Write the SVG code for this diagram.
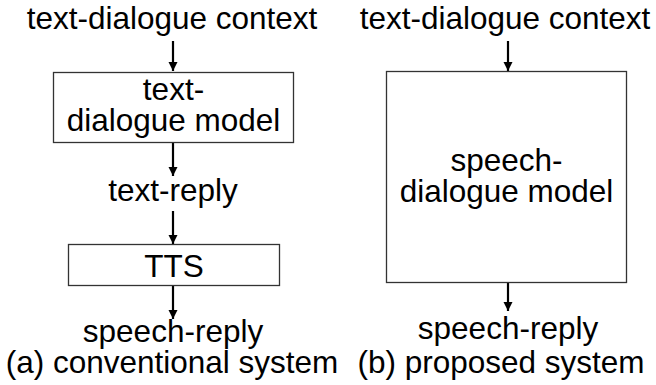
<svg xmlns="http://www.w3.org/2000/svg" width="656" height="385" viewBox="0 0 656 385">
<style>
text{font-family:"Liberation Sans",Arial,sans-serif;font-size:31.5px;fill:#000;text-anchor:middle}
.box{fill:#fff;stroke:#333;stroke-width:1.3}
.arr{stroke:#000;stroke-width:2.2;fill:none;marker-end:url(#ah)}
</style>
<defs>
<marker id="ah" viewBox="0 0 10 10" refX="10" refY="5" markerWidth="4.2" markerHeight="4.2" markerUnits="strokeWidth" orient="auto">
<path d="M0,0 L10,5 L0,10 z" fill="#000"/>
</marker>
</defs>
<rect width="656" height="385" fill="#fff"/>
<g id="connectors">
<line class="arr" x1="173" y1="41" x2="173" y2="71"/>
<line class="arr" x1="173" y1="143" x2="173" y2="176"/>
<line class="arr" x1="173" y1="211" x2="173" y2="244"/>
<line class="arr" x1="173" y1="286" x2="173" y2="319"/>
<line class="arr" x1="508" y1="41" x2="508" y2="71"/>
<line class="arr" x1="508" y1="283" x2="508" y2="311"/>
</g>
<g id="input-a"><text x="172" y="29">text-dialogue context</text></g>
<g id="text-dialogue-model">
<rect class="box" x="53.5" y="72.5" width="240" height="70"/>
<text x="173.5" y="100">text-</text>
<text x="173.5" y="131">dialogue model</text>
</g>
<g id="text-reply"><text x="173" y="201">text-reply</text></g>
<g id="tts">
<rect class="box" x="68.5" y="244.5" width="211" height="41"/>
<text x="174" y="277">TTS</text>
</g>
<g id="speech-reply-a"><text x="173" y="342">speech-reply</text></g>
<g id="caption-a"><text x="172" y="373">(a) conventional system</text></g>
<g id="input-b"><text x="505" y="29">text-dialogue context</text></g>
<g id="speech-dialogue-model">
<rect class="box" x="386.5" y="71.5" width="240" height="211"/>
<text x="506.5" y="171">speech-</text>
<text x="506.5" y="202">dialogue model</text>
</g>
<g id="speech-reply-b"><text x="508" y="339">speech-reply</text></g>
<g id="caption-b"><text x="501" y="373">(b) proposed system</text></g>
</svg>
